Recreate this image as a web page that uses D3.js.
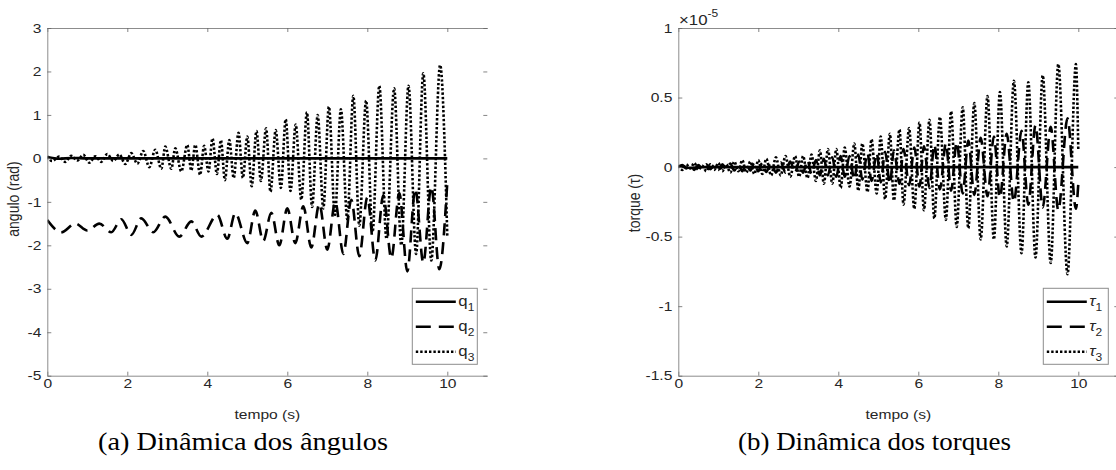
<!DOCTYPE html>
<html>
<head>
<meta charset="utf-8">
<script src="https://cdn.jsdelivr.net/npm/d3@7"></script>
<style>
  body { margin: 0; background: #fff; }
  svg { display: block; }
</style>
</head>
<body>
<svg id="chart" width="1116" height="470"></svg>
<script>
'use strict';

// ---- data (time in s) ----
var xTicks = [0, 2, 4, 6, 8, 10];
var angTicks = [-5, -4, -3, -2, -1, 0, 1, 2, 3];
var torTicks = [-1.5, -1, -0.5, 0, 0.5, 1];   // x 1e-5

// angles (rad): [t, value] at the turning points
var q1 = [[0, 0.03], [0.3, -0.01], [0.6, 0.01], [1, 0], [10, 0]];
var q2 = [[0, -1.42], [0.35, -1.7], [0.7, -1.5], [1.0, -1.66], [1.3, -1.5], [1.6, -1.7],
  [1.85, -1.4], [2.1, -1.76], [2.35, -1.38], [2.65, -1.7], [2.95, -1.34], [3.3, -1.8],
  [3.6, -1.45], [3.85, -1.8], [4.25, -1.3], [4.5, -1.85], [4.7, -1.26], [5.0, -1.95],
  [5.2, -1.2], [5.4, -1.9], [5.6, -1.25], [5.8, -2.0], [6.0, -1.15], [6.2, -1.95],
  [6.4, -1.1], [6.6, -2.05], [6.8, -1.05], [7.0, -2.1], [7.2, -1.0], [7.4, -2.2],
  [7.6, -0.95], [7.8, -2.25], [8.0, -0.9], [8.2, -2.35], [8.4, -0.85], [8.6, -2.3],
  [8.8, -0.8], [9.0, -2.6], [9.2, -0.7], [9.4, -2.4], [9.6, -0.65], [9.8, -2.55], [10, -0.55]];
var q3 = [[0, 0.05], [0.12, -0.06], [0.3, 0.04], [0.45, -0.08], [0.6, 0.06], [0.75, -0.05],
  [0.9, 0.08], [1.05, -0.1], [1.2, 0.05], [1.35, -0.08], [1.5, 0.1], [1.65, -0.06],
  [1.8, 0.09], [1.95, -0.13], [2.1, 0.12], [2.25, -0.12], [2.4, 0.17], [2.55, -0.2],
  [2.7, 0.2], [2.85, -0.24], [2.95, 0.27], [3.1, -0.24], [3.2, 0.23], [3.35, -0.3],
  [3.5, 0.31], [3.6, -0.28], [3.7, 0.31], [3.82, -0.38], [3.92, 0.29], [4.03, -0.3],
  [4.13, 0.46], [4.24, -0.36], [4.34, 0.42], [4.44, -0.5], [4.55, 0.42], [4.66, -0.45],
  [4.78, 0.59], [4.89, -0.45], [5.0, 0.5], [5.11, -0.64], [5.23, 0.63], [5.34, -0.52],
  [5.47, 0.69], [5.58, -0.77], [5.71, 0.65], [5.84, -0.68], [5.96, 0.9], [6.08, -0.75],
  [6.21, 0.78], [6.35, -0.95], [6.49, 1.06], [6.62, -1.12], [6.76, 1.0], [6.9, -1.15],
  [7.04, 1.19], [7.19, -1.3], [7.34, 1.13], [7.5, -1.4], [7.65, 1.44], [7.8, -1.55],
  [7.97, 1.33], [8.13, -1.7], [8.3, 1.67], [8.48, -1.85], [8.67, 1.61], [8.85, -2.0],
  [9.03, 1.67], [9.22, -2.2], [9.4, 1.96], [9.6, -2.35], [9.82, 2.15], [10, -1.8]];

// torques (x 1e-5)
var tau1 = [[0, 0.01], [0.3, -0.005], [0.6, 0], [10, 0]];
var tau2 = [[0, 0], [0.1, 0.015], [0.2, -0.01], [0.3, 0.01], [0.4, -0.02], [0.5, 0.015],
  [0.6, -0.01], [0.7, 0.02], [0.8, -0.015], [0.9, 0.015], [1.0, -0.02], [1.1, 0.02],
  [1.2, -0.015], [1.3, 0.025], [1.4, -0.025], [1.5, 0.02], [1.6, -0.03], [1.7, 0.025],
  [1.8, -0.025], [1.9, 0.03], [2.0, -0.03], [2.1, 0.03], [2.2, -0.035], [2.32, 0.035],
  [2.44, -0.04], [2.56, 0.035], [2.68, -0.04], [2.8, 0.04], [2.92, -0.04], [3.02, 0.04],
  [3.12, -0.04], [3.23, 0.05], [3.33, -0.05], [3.44, 0.05], [3.54, -0.06], [3.64, 0.06],
  [3.74, -0.06], [3.85, 0.07], [3.95, -0.07], [4.06, 0.08], [4.16, -0.07], [4.28, 0.08],
  [4.4, -0.09], [4.5, 0.09], [4.6, -0.09], [4.73, 0.1], [4.83, -0.1], [4.96, 0.1],
  [5.06, -0.11], [5.17, 0.11], [5.29, -0.12], [5.39, 0.12], [5.53, -0.12], [5.63, 0.13],
  [5.77, -0.13], [5.9, 0.14], [6.03, -0.14], [6.14, 0.15], [6.28, -0.15], [6.4, 0.16],
  [6.54, -0.16], [6.69, 0.17], [6.82, -0.17], [6.96, 0.18], [7.11, -0.19], [7.25, 0.19],
  [7.4, -0.2], [7.56, 0.21], [7.73, -0.21], [7.89, 0.22], [8.04, -0.22], [8.21, 0.24],
  [8.39, -0.25], [8.58, 0.26], [8.75, -0.27], [8.93, 0.3], [9.11, -0.29], [9.31, 0.29],
  [9.5, -0.31], [9.73, 0.35], [9.94, -0.3], [10, -0.12]];
var tau3 = [[0, 0.01], [0.1, -0.02], [0.2, 0.02], [0.3, -0.01], [0.4, 0.03], [0.5, -0.02],
  [0.6, 0.01], [0.7, -0.03], [0.8, 0.02], [0.9, -0.02], [1.0, 0.03], [1.1, -0.03],
  [1.2, 0.02], [1.3, -0.04], [1.4, 0.04], [1.5, -0.03], [1.6, 0.05], [1.7, -0.04],
  [1.8, 0.04], [1.9, -0.05], [2.0, 0.05], [2.1, -0.05], [2.2, 0.06], [2.32, -0.06],
  [2.44, 0.07], [2.56, -0.06], [2.68, 0.08], [2.8, -0.07], [2.92, 0.08], [3.02, -0.07],
  [3.12, 0.08], [3.23, -0.08], [3.33, 0.09], [3.44, -0.1], [3.54, 0.12], [3.64, -0.12],
  [3.74, 0.13], [3.85, -0.12], [3.95, 0.13], [4.06, -0.15], [4.16, 0.14], [4.28, -0.14],
  [4.4, 0.17], [4.5, -0.17], [4.6, 0.17], [4.73, -0.18], [4.83, 0.2], [4.96, -0.19],
  [5.06, 0.22], [5.17, -0.23], [5.29, 0.24], [5.39, -0.24], [5.53, 0.27], [5.63, -0.27],
  [5.77, 0.28], [5.9, -0.3], [6.03, 0.32], [6.14, -0.31], [6.28, 0.34], [6.4, -0.37],
  [6.54, 0.36], [6.69, -0.38], [6.82, 0.4], [6.96, -0.43], [7.11, 0.43], [7.25, -0.44],
  [7.4, 0.46], [7.56, -0.52], [7.73, 0.51], [7.89, -0.52], [8.04, 0.54], [8.21, -0.57],
  [8.39, 0.62], [8.58, -0.62], [8.75, 0.61], [8.93, -0.65], [9.11, 0.66], [9.31, -0.69],
  [9.5, 0.74], [9.73, -0.77], [9.94, 0.74], [10, 0.12]];

var angNames = ['q', 'q', 'q'];
var torNames = ['\u03c4', '\u03c4', '\u03c4'];

// ---- drawing ----
var svg = d3.select('#chart');
var axisColor = '#8c8c8c';
var textColor = '#262626';
var font = '"Liberation Sans", Arial, sans-serif';
var stretch = 'scale(1.2,1)';   // the original figure text is a bit wide
var plotTop = 28, plotBottom = 375.7;
var styles = [
  { dash: null, legDash: null },
  { dash: '12,7', legDash: '15,8' },
  { dash: '2.4,2', legDash: '2.4,2' }
];

function panel(o) {
  var x = d3.scaleLinear().domain([0, 11]).range([o.left, o.left + 440]);
  var y = d3.scaleLinear().domain(o.yDomain).range([plotBottom, plotTop]);
  var g = svg.append('g');

  g.append('defs').append('clipPath').attr('id', o.id)
    .append('rect')
    .attr('x', x(0)).attr('y', plotTop)
    .attr('width', x(11) - x(0)).attr('height', plotBottom - plotTop);

  var line = d3.line()
    .x(function(d) { return x(d[0]); })
    .y(function(d) { return y(d[1]); })
    .curve(d3.curveMonotoneX);

  var plot = g.append('g').attr('clip-path', 'url(#' + o.id + ')');
  o.series.forEach(function(s, i) {
    plot.append('path')
      .attr('d', line(s))
      .attr('fill', 'none')
      .attr('stroke', '#000')
      .attr('stroke-width', 2.6)
      .attr('stroke-dasharray', styles[i].dash);
  });

  // axes
  g.append('g').attr('transform', 'translate(0,' + plotBottom + ')')
    .call(d3.axisBottom(x).tickValues(xTicks).tickSizeInner(-4).tickSizeOuter(0).tickPadding(3));
  g.append('g').attr('transform', 'translate(0,' + plotTop + ')')
    .call(d3.axisTop(x).tickValues(xTicks).tickSizeInner(-4).tickSizeOuter(0).tickFormat(''));
  g.append('g').attr('transform', 'translate(' + x(0) + ',0)')
    .call(d3.axisLeft(y).tickValues(o.yTicks).tickSizeInner(-4).tickSizeOuter(0).tickPadding(5)
      .tickFormat(function(d) { return String(d); }));
  var yr = g.append('g').attr('transform', 'translate(' + x(11) + ',0)')
    .call(d3.axisRight(y).tickValues(o.yTicks).tickSizeInner(-4).tickSizeOuter(0).tickFormat(''));
  yr.select('.domain').remove();

  g.selectAll('.domain').attr('stroke', axisColor).attr('stroke-width', 1);
  g.selectAll('.tick line').attr('stroke', '#666').attr('stroke-width', 0.8);
  g.selectAll('.tick text').attr('fill', textColor)
    .attr('transform', stretch)
    .style('font-family', font).style('font-size', '13px');

  // axis labels
  g.append('text')
    .attr('transform', 'translate(' + (x(0) + x(11)) / 2 + ',419) ' + stretch)
    .attr('text-anchor', 'middle')
    .style('font-family', font).style('font-size', '13px').attr('fill', textColor)
    .text('tempo (s)');
  g.append('text')
    .attr('transform', 'translate(' + o.yLabelX + ',' + o.yLabelY + ') rotate(-90) scale(1,1.2)')
    .attr('text-anchor', 'middle')
    .style('font-family', font).style('font-size', '14px').attr('fill', textColor)
    .text(o.yLabel);

  // legend
  var lx = x(0) + 365, ly = 288.3;
  var leg = g.append('g');
  leg.append('rect')
    .attr('x', lx).attr('y', ly).attr('width', 65).attr('height', 76)
    .attr('fill', '#fff').attr('stroke', axisColor).attr('stroke-width', 1);
  o.names.forEach(function(n, i) {
    var yy = ly + 13.5 + i * 25;
    leg.append('line')
      .attr('x1', lx + 3.5).attr('x2', lx + 43.5)
      .attr('y1', yy).attr('y2', yy)
      .attr('stroke', '#000').attr('stroke-width', 2.6)
      .attr('stroke-dasharray', styles[i].legDash);
    var t = leg.append('text')
      .attr('transform', 'translate(' + (lx + 46) + ',' + (yy + 4) + ') ' + stretch)
      .style('font-family', font).style('font-size', '14px').attr('fill', textColor);
    t.append('tspan').text(n).style('font-style', o.italic ? 'italic' : 'normal');
    t.append('tspan').attr('dy', 5).style('font-size', '10px').text(i + 1);
  });

  // caption
  svg.append('text')
    .attr('x', o.capX).attr('y', 450)
    .style('font-family', '"Liberation Serif", "DejaVu Serif", serif')
    .style('font-size', '25px').attr('fill', '#000')
    .attr('textLength', o.capW).attr('lengthAdjust', 'spacingAndGlyphs')
    .text(o.caption);
  return { x: x, y: y };
}

panel({
  id: 'clipA', left: 47.3, yDomain: [-5, 3], yTicks: angTicks,
  series: [q1, q2, q3], names: angNames, italic: false,
  yLabel: 'angulo (rad)', yLabelX: 18.5, yLabelY: 199,
  caption: '(a) Din\u00e2mica dos \u00e2ngulos', capX: 98, capW: 290
});

panel({
  id: 'clipB', left: 678.3, yDomain: [-1.5, 1], yTicks: torTicks,
  series: [tau1, tau2, tau3], names: torNames, italic: true,
  yLabel: 'torque (\u03c4)', yLabelX: 639.5, yLabelY: 203,
  caption: '(b) Din\u00e2mica dos torques', capX: 738, capW: 273
});

// exponent marker
var ex = svg.append('text')
  .attr('transform', 'translate(679,25) ' + stretch)
  .style('font-family', font).style('font-size', '14px').attr('fill', textColor);
ex.append('tspan').text('\u00d710');
ex.append('tspan').attr('dy', -8).style('font-size', '10px').text('-5');
</script>
</body>
</html>
